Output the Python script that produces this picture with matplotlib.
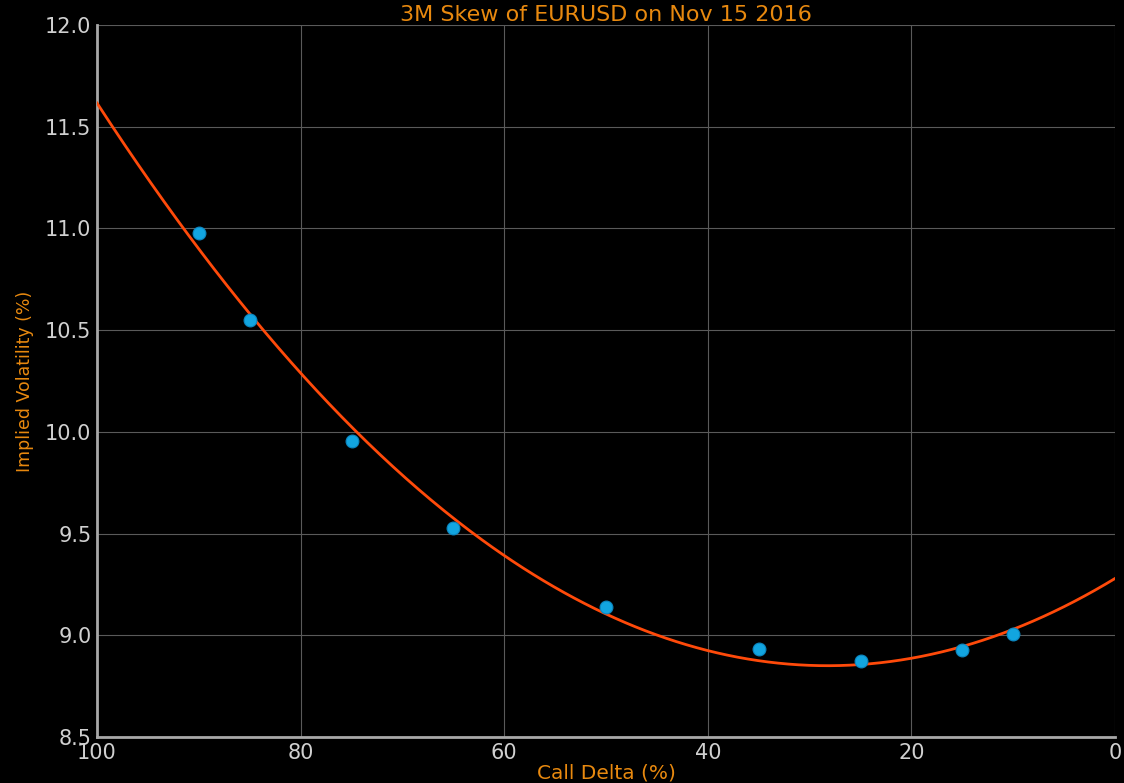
import matplotlib.pyplot as plt
import numpy as np

# 3M EURUSD implied vol quotes by call delta
call_delta = [90, 85, 75, 65, 50, 35, 25, 15, 10]
implied_vol = [10.98, 10.55, 9.955, 9.53, 9.14, 8.932, 8.873, 8.927, 9.006]

title_color = '#e8890f'
tick_color = '#d0d0d0'

# quadratic smile fit through the quotes
coefs = np.polyfit(call_delta, implied_vol, 2)
xs = np.linspace(0, 100, 400)
fit = np.polyval(coefs, xs)

fig = plt.figure(figsize=(11.24, 7.83), dpi=100, facecolor='black')
ax = fig.add_axes([0.0863, 0.0587, 0.9057, 0.9093], facecolor='black')

ax.plot(xs, fit, color='#ff4a0a', linewidth=2, zorder=3)
ax.scatter(call_delta, implied_vol, s=85, color='#12a5e0', edgecolor='#0b86c0',
           linewidth=0.8, zorder=4)

ax.set_xlim(100, 0)
ax.set_ylim(8.5, 12.0)
ax.set_xticks([100, 80, 60, 40, 20, 0])
ax.set_yticks(np.arange(8.5, 12.01, 0.5))
ax.yaxis.set_major_formatter(plt.FormatStrFormatter('%.1f'))

ax.grid(True, color='#5a5a5a', linewidth=0.8)
ax.set_axisbelow(True)
for side in ['top', 'right']:
    ax.spines[side].set_visible(False)
for side in ['left', 'bottom']:
    ax.spines[side].set_color('#a8a8a8')
    ax.spines[side].set_linewidth(2)
ax.tick_params(length=0, labelsize=15, colors=tick_color, pad=4)

ax.set_title('3M Skew of EURUSD on Nov 15 2016', color=title_color, fontsize=16, pad=3)
ax.set_xlabel('Call Delta (%)', color=title_color, fontsize=14.5, labelpad=1)
ax.set_ylabel('Implied Volatility (%)', color=title_color, fontsize=12.5, labelpad=8)

fig.savefig('out.png', dpi=100, facecolor='black')
